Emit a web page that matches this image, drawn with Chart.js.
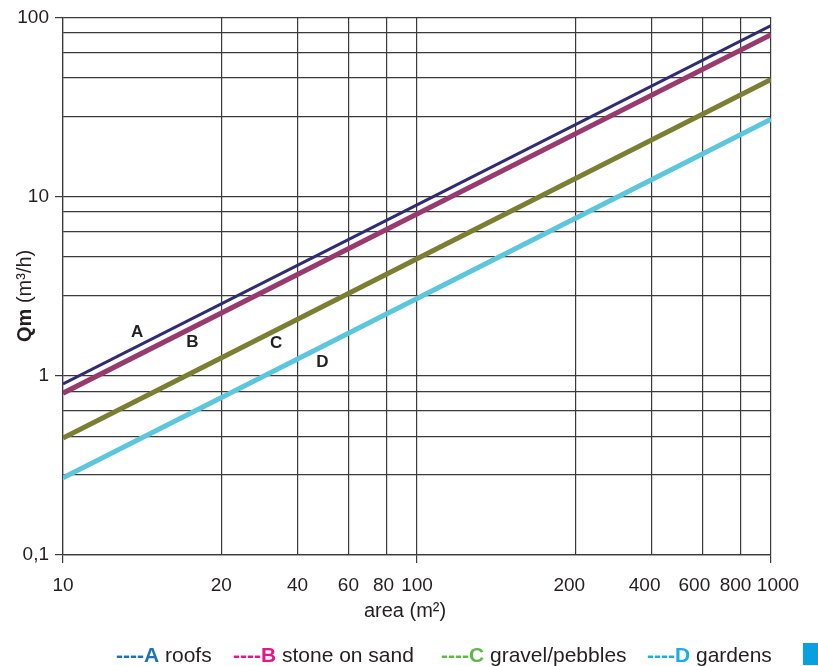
<!DOCTYPE html>
<html>
<head>
<meta charset="utf-8">
<script src="https://cdn.jsdelivr.net/npm/chart.js@4.4.1/dist/chart.umd.min.js"></script>
<style>
  body { margin: 0; background: #fff; }
  #wrap { position: relative; width: 818px; height: 666px; overflow: hidden; }
  #legend { position: absolute; left: 0; top: 644px; width: 818px; height: 22px;
    font: 21px "Liberation Sans", Arial, sans-serif; color: #231f20; line-height: 21px; }
  #legend span.item { position: absolute; white-space: nowrap; }
  #legend b { font-weight: bold; }
  #legend .swatch { position: absolute; left: 803px; top: -1px; width: 20px; height: 22px;
    background: #0a9fe0; border-radius: 0 0 4px 0; }
</style>
</head>
<body>
<div id="wrap">
  <canvas id="chart" width="818" height="666"></canvas>
  <div id="legend"></div>
</div>
<script>
// data
const areaValues = [10, 100, 1000];
const roofs = [0.9, 9, 90];
const stoneOnSand = [0.8, 8, 80];
const gravelPebbles = [0.45, 4.5, 45];
const gardens = [0.27, 2.7, 27];

// gridlines of the original are not at true log positions
const xTickValues = [10, 28, 46, 64, 82, 100, 280, 460, 640, 820, 1000];
const xTickLabels = ['10', '20', '40', '60', '80', '100', '200', '400', '600', '800', '1000'];
const yTickValues = [0.1, 0.28, 0.46, 0.64, 0.82, 1, 2.8, 4.6, 6.4, 8.2, 10, 28, 46, 64, 82, 100];
const yTickLabels = ['0,1', '', '', '', '', '1', '', '', '', '', '10', '', '', '', '', '100'];

const curveLetters = ['A', 'B', 'C', 'D'];
const curveLabelX = [16.2, 23.2, 40, 54];
const curveLabelY = [1.75, 1.54, 1.51, 1.19];

const legendKeys = ['----A', '----B', '----C', '----D'];
const legendNames = ['roofs', 'stone on sand', 'gravel/pebbles', 'gardens'];

const FONT = '"Liberation Sans", Arial, sans-serif';
const GRID = '#3a3a3a';
const lineColors = ['#2f2c72', '#993a6f', '#7b7f33', '#5cc7dc'];
const lineWidths = [3, 5, 5, 5];
const legendColors = ['#1f72b8', '#e5168a', '#5cb947', '#1aaee8'];
const legendLeft = [116, 233, 441, 647];
const xLabelShift = [0, 0, 0, 0, -3, 0, -6, -7, -8, -5, 7];

// html legend
const legendEl = document.getElementById('legend');
legendKeys.forEach(function (key, i) {
    const item = document.createElement('span');
    item.className = 'item';
    item.style.left = legendLeft[i] + 'px';
    item.innerHTML = '<b style="color:' + legendColors[i] + '">' + key + '</b> ' + legendNames[i];
    legendEl.appendChild(item);
});
const swatch = document.createElement('span');
swatch.className = 'swatch';
legendEl.appendChild(swatch);

function points(values) {
    return areaValues.map(function (a, i) { return { x: a, y: values[i] }; });
}

const series = [roofs, stoneOnSand, gravelPebbles, gardens];

const extras = {
    id: 'extras',
    afterDraw(chart) {
        const ctx = chart.ctx;
        const xs = chart.scales.x, ys = chart.scales.y;
        ctx.save();
        ctx.fillStyle = '#231f20';

        // x tick labels
        ctx.font = '19px ' + FONT;
        ctx.textAlign = 'center';
        ctx.textBaseline = 'alphabetic';
        xTickValues.forEach(function (v, i) {
            ctx.fillText(xTickLabels[i], xs.getPixelForValue(v) + xLabelShift[i], 591);
        });

        // x title
        ctx.font = '20px ' + FONT;
        ctx.fillText('area (m²)', 405, 617);

        // y title, bold "Qm" then normal units
        ctx.translate(31, 342);
        ctx.rotate(-Math.PI / 2);
        ctx.textAlign = 'left';
        ctx.font = 'bold 20px ' + FONT;
        ctx.fillText('Qm', 0, 0);
        const w = ctx.measureText('Qm ').width;
        ctx.font = '20px ' + FONT;
        ctx.fillText('(m³/h)', w, 0);
        ctx.restore();

        // curve letters
        ctx.save();
        ctx.fillStyle = '#231f20';
        ctx.font = 'bold 17px ' + FONT;
        ctx.textAlign = 'center';
        ctx.textBaseline = 'middle';
        curveLetters.forEach(function (t, i) {
            ctx.fillText(t, xs.getPixelForValue(curveLabelX[i]), ys.getPixelForValue(curveLabelY[i]));
        });
        ctx.restore();
    }
};

new Chart(document.getElementById('chart').getContext('2d'), {
    type: 'line',
    data: {
        datasets: series.map(function (s, i) {
            return {
                label: legendNames[i],
                data: points(s),
                borderColor: lineColors[i],
                borderWidth: lineWidths[i],
                pointRadius: 0,
                tension: 0,
                fill: false
            };
        })
    },
    options: {
        responsive: false,
        animation: false,
        layout: { padding: { top: 15, right: 47, left: 0, bottom: 0 } },
        plugins: { legend: { display: false }, tooltip: { enabled: false } },
        scales: {
            x: {
                type: 'logarithmic',
                min: 10,
                max: 1000,
                afterBuildTicks: function (scale) {
                    scale.ticks = xTickValues.map(function (v) { return { value: v }; });
                },
                afterFit: function (scale) { scale.height = 111; },
                ticks: { display: false, autoSkip: false, maxRotation: 0 },
                grid: {
                    color: GRID,
                    lineWidth: 1.2,
                    tickLength: 8,
                    tickColor: function (c) { return [0, 5, 10].includes(c.index) ? GRID : 'rgba(0,0,0,0)'; }
                },
                border: { color: GRID, width: 1.2 }
            },
            y: {
                type: 'logarithmic',
                min: 0.1,
                max: 100,
                afterBuildTicks: function (scale) {
                    scale.ticks = yTickValues.map(function (v) { return { value: v }; });
                },
                afterFit: function (scale) { scale.width = 63; },
                ticks: {
                    autoSkip: false,
                    padding: 6,
                    color: '#231f20',
                    font: { family: FONT, size: 19 },
                    callback: function (v, i) { return yTickLabels[i]; }
                },
                grid: {
                    color: GRID,
                    lineWidth: 1.2,
                    tickLength: 8,
                    tickColor: function (c) { return yTickLabels[c.index] ? GRID : 'rgba(0,0,0,0)'; }
                },
                border: { color: GRID, width: 1.2 }
            }
        }
    },
    plugins: [extras]
});
</script>
</body>
</html>
